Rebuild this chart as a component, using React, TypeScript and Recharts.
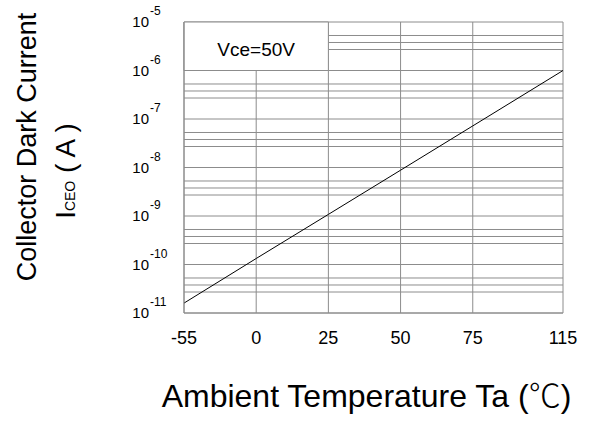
import { CartesianGrid, Line, LineChart, ReferenceArea, XAxis, YAxis } from "recharts";

// temperature ticks and where they sit on the (non-linear) printed axis
const tempTicks = [-55, 0, 25, 50, 75, 115];
const tempPos = [0, 1, 2, 3, 4, 5.25];

// collector dark current read at each tick (A)
const iceo = [1.6e-11, 1.33e-10, 1.08e-9, 8.8e-9, 7.2e-8, 1.0e-6];

const decades = [1e-11, 1e-10, 1e-9, 1e-8, 1e-7, 1e-6, 1e-5];
const minorSteps = [2.71, 3.78, 5.27];

const gridColor = "#8c8c8c";
const font = "'Liberation Sans', Arial, 'Noto Sans CJK SC', sans-serif";
const cjk = "'Noto Sans CJK SC', sans-serif";

const data = tempTicks.map((t, i) => ({ temp: t, pos: tempPos[i], current: iceo[i] }));

const yTicks: number[] = [];
decades.forEach((d, i) => {
    yTicks.push(d);
    if (i < decades.length - 1) {
        minorSteps.forEach(m => yTicks.push(d * m));
    }
});

function posLabel(v: number) {
    const i = tempPos.indexOf(v);
    return i >= 0 ? String(tempTicks[i]) : '';
}

function YTick(props: any) {
    const { x, y, payload } = props;
    const lg = Math.log10(payload.value);
    const e = Math.round(lg);
    if (Math.abs(lg - e) > 0.01) {
        return null;
    }
    return (
        <g fontFamily={font} fill="#000">
            <text x={x} y={y + 5} textAnchor="end" fontSize={15}>10</text>
            <text x={x + 1} y={y - 7} textAnchor="start" fontSize={12}>{e}</text>
        </g>
    );
}

function YLabel() {
    return (
        <g fontFamily={font} fill="#000">
            <text x={36} y={147} textAnchor="middle" fontSize={27} transform="rotate(-90 36 147)">
                Collector Dark Current
            </text>
            <text x={75} y={171} textAnchor="middle" fontSize={28} transform="rotate(-90 75 171)">
                I<tspan fontSize={14}>CEO</tspan> ( A )
            </text>
        </g>
    );
}

function XLabel(props: any) {
    const vb = props.viewBox || {};
    const cx = vb.x + vb.width / 2 - 7;
    const by = vb.y + vb.height - 16;
    return (
        <text x={cx} y={by} textAnchor="middle" fontSize={32} fontFamily={font} fill="#000">
            Ambient Temperature Ta (<tspan fontFamily={cjk} fontWeight={300}>℃</tspan>)
        </text>
    );
}

export default function App() {
    return (
        <div style={{ position: 'absolute', left: 0, top: 0 }}>
            <LineChart width={590} height={423} data={data} margin={{ top: 22, right: 27, bottom: 0, left: 0 }}>
                <CartesianGrid stroke={gridColor} strokeWidth={1} />
                <XAxis
                    type="number"
                    dataKey="pos"
                    domain={[0, 5.25]}
                    ticks={tempPos}
                    tickFormatter={posLabel}
                    height={110}
                    axisLine={{ stroke: gridColor }}
                    tickLine={false}
                    tickSize={0}
                    tickMargin={18}
                    tick={{ fill: '#000', fontSize: 18, fontFamily: font }}
                    label={{ content: XLabel }}
                />
                <YAxis
                    scale="log"
                    domain={[1e-11, 1e-5]}
                    allowDataOverflow
                    ticks={yTicks}
                    interval={0}
                    width={184}
                    axisLine={{ stroke: gridColor }}
                    tickLine={false}
                    tickSize={0}
                    tickMargin={35}
                    tick={YTick}
                    label={{ content: YLabel }}
                />
                <ReferenceArea
                    x1={tempPos[0]}
                    x2={tempPos[2]}
                    y1={1e-6}
                    y2={1e-5}
                    fill="#fff"
                    fillOpacity={1}
                    stroke={gridColor}
                    strokeWidth={1}
                    label={{ value: 'Vce=50V', position: 'center', dy: 3, fill: '#000', fontSize: 19, fontFamily: font }}
                />
                <Line type="linear" dataKey="current" stroke="#000" strokeWidth={1} dot={false} isAnimationActive={false} />
            </LineChart>
        </div>
    );
}
